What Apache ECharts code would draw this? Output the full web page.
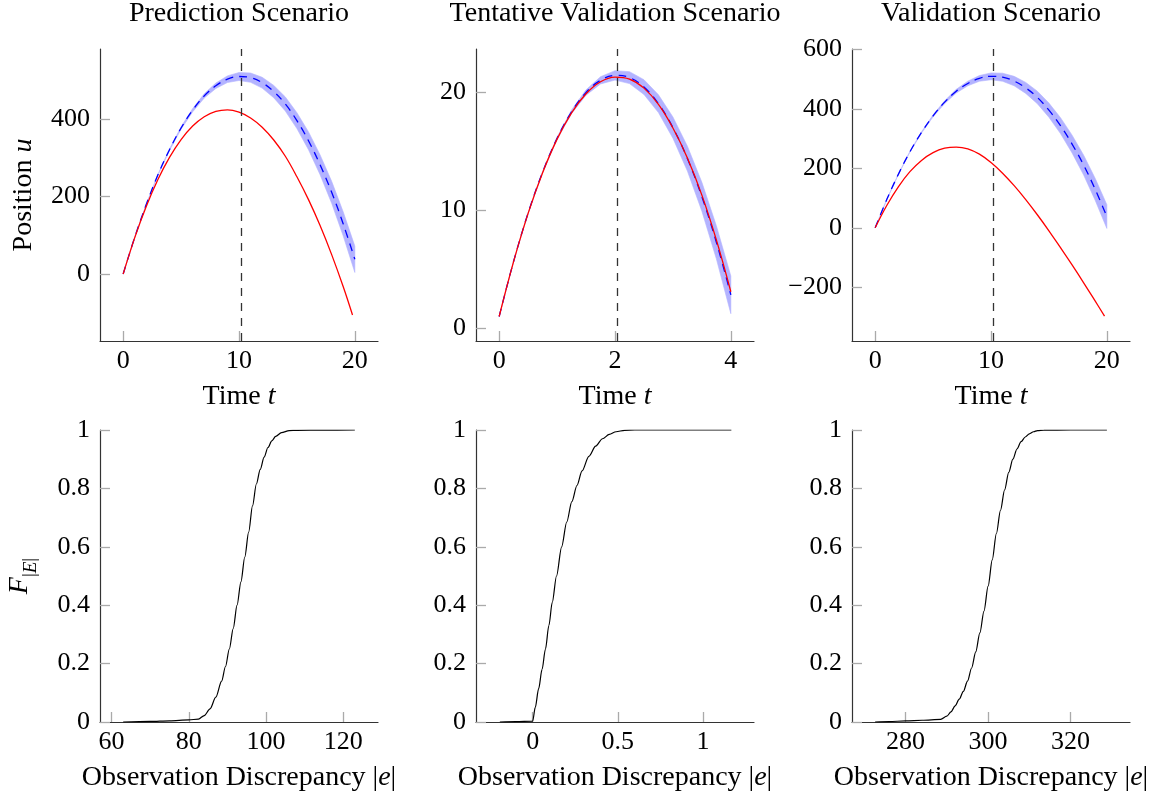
<!DOCTYPE html>
<html><head><meta charset="utf-8">
<script src="https://cdn.jsdelivr.net/npm/echarts@6/dist/echarts.min.js"></script>
<style>html,body{margin:0;padding:0;background:#fff}#c{width:1157px;height:797px}</style>
</head><body><div id="c"></div>
<script>
// ---------- data ----------
const titles = ['Prediction Scenario', 'Tentative Validation Scenario', 'Validation Scenario'];

// Panel A: prediction scenario
const timeA = [0,1,2,3,4,5,6,7,8,9,10,11,12,13,14,15,16,17,18,19,20];
const blueA = [0,95,180,256,321,377,423,460,486,503,510,507,494,471,439,396,344,282,211,129,38];
const halfA = [0,0.2,0.6,1.2,2,3,4.2,5.5,7,8.6,10.3,12,14,16,18.2,20.5,23,25.6,28.3,31,34];
const redTimeA = [0,1,2,3,4,5,6,7,8,9,10,11,12,13,14,15,16,17,18,19,19.8];
const redA  = [0,94,175,244,301,347,382,406,420,424,418,403,379,346,304,251,192,125,50,-33,-106];

// Panel B: tentative validation scenario
const timeB = [0,0.25,0.5,0.75,1,1.25,1.5,1.75,2,2.25,2.5,2.75,3,3.25,3.5,3.75,4];
const blueB = [1,5.69,9.78,13.25,16.12,18.37,20.01,21.04,21.46,21.27,20.47,19.06,17.03,14.4,11.16,7.3,2.84];
const halfB = [0,0.006,0.025,0.056,0.1,0.156,0.225,0.306,0.4,0.506,0.625,0.756,0.9,1.056,1.225,1.406,1.6];
const redTimeB = [0,0.25,0.5,0.75,1,1.25,1.5,1.75,2,2.25,2.5,2.75,3,3.25,3.5,3.75,4];
const redB  = [1,5.68,9.75,13.2,16.05,18.28,19.9,20.92,21.32,21.15,20.38,19.0,17.0,14.45,11.3,7.5,3.1];

// Panel C: validation scenario
const timeC = [0,1,2,3,4,5,6,7,8,9,10,11,12,13,14,15,16,17,18,19,20];
const blueC = [0,95,180,256,321,377,423,460,486,503,510,507,494,471,439,396,344,282,211,129,38];
const halfC = [0,0.2,0.6,1.3,2.2,3.3,4.6,6.1,7.8,9.6,11.5,13.6,15.9,18.4,21,23.8,26.8,30,33.3,36.8,40];
const redTimeC = [0,1,2,3,4,5,6,7,8,9,10,11,12,13,14,15,16,17,18,19,19.8];
const redC  = [0,75,138,189,227,253,268,272,266,248,220,184,142,95,44,-10,-67,-125,-185,-247,-297];

const peakTimes = [10.2, 2.04, 10.2];

// CDFs of observation discrepancy
const cdfXA = [63,70,75,80,82.5,84,85.5,87,88.5,89.5,90.5,91.5,92.5,93.5,94.5,95.5,96.5,97.5,98.5,99.5,100.5,101.5,102.5,104,106,108,115,123];
const cdfYA = [0,0.002,0.004,0.007,0.01,0.022,0.045,0.085,0.14,0.19,0.25,0.32,0.4,0.48,0.565,0.65,0.74,0.815,0.865,0.907,0.94,0.963,0.978,0.991,0.998,0.999,0.9995,1];
const cdfXB = [-0.193,-0.1,0,0.015,0.035,0.055,0.075,0.095,0.115,0.14,0.17,0.2,0.23,0.26,0.29,0.33,0.37,0.41,0.45,0.49,0.54,0.6,0.8,1.167];
const cdfYB = [0,0.001,0.003,0.05,0.114,0.18,0.25,0.33,0.41,0.5,0.6,0.685,0.755,0.81,0.86,0.91,0.945,0.97,0.985,0.994,0.999,1,1,1];
const cdfXC = [272.6,276,280,284,288.5,290,291,292,293,294,295,296,297,298,299,300,301,302,303,304,305,306,307,308,309,310,311,312,313.5,320,328.8];
const cdfYC = [0,0.001,0.004,0.006,0.009,0.02,0.035,0.055,0.078,0.105,0.14,0.185,0.24,0.305,0.38,0.465,0.555,0.645,0.725,0.795,0.855,0.9,0.935,0.96,0.976,0.987,0.994,0.998,0.9995,1,1];

// ticks
const xTicksTop = [[0,10,20],[0,2,4],[0,10,20]];
const yTicksTop = [[0,200,400],[0,10,20],[-200,0,200,400,600]];
const xTicksBot = [[60,80,100,120],[0,0.5,1],[280,300,320]];
const yTicksBot = [0,0.2,0.4,0.6,0.8,1];

// ---------- layout / style ----------
const FF = "'Liberation Serif','Times New Roman',serif";
const FS = 26;   // tick labels
const FT = 28;   // titles and axis names
const lefts = [100, 476, 852];
const W = 278;
const tops = [49, 430];
const H = 292;
const xRangeTop = [[-2,22],[-0.4,4.4],[-2,22]];
const yRangeTop = [[-173,581],[-1.08,23.7],[-381,602]];
const xRangeBot = [[57,129],[-0.333,1.3],[267,334.4]];

function fmt(v){ return v < 0 ? '\u2212' + Math.abs(v) : String(v); }
const richBase = {
  i: {fontFamily: FF, fontSize: FT, fontStyle: 'italic', color: '#000'},
  f: {fontFamily: FF, fontSize: FT, fontStyle: 'italic', color: '#000', verticalAlign: 'top'},
  s: {fontFamily: FF, fontSize: 19, color: '#000', padding: [15,0,0,0], verticalAlign: 'bottom'},
  si: {fontFamily: FF, fontSize: 19, fontStyle: 'italic', color: '#000', padding: [15,0,0,0], verticalAlign: 'bottom'}
};
function axisCommon(ticks, margin){
  return {
    type: 'value',
    splitLine: {show: false},
    axisLine: {show: true, onZero: false, lineStyle: {color: '#333', width: 1.2}},
    axisTick: {show: true, inside: true, length: 10, lineStyle: {color: '#aaa', width: 1.3}, customValues: ticks},
    axisLabel: {show: true, customValues: ticks, formatter: fmt, fontFamily: FF, fontSize: FS, color: '#000', margin: margin},
    nameLocation: 'middle',
    nameTextStyle: {fontFamily: FF, fontSize: FT, color: '#000', rich: richBase}
  };
}

const grids = [], xAxes = [], yAxes = [], series = [];
for (let r = 0; r < 2; r++) {
  for (let c = 0; c < 3; c++) {
    grids.push({left: lefts[c], top: tops[r], width: W, height: H, containLabel: false});
  }
}
for (let c = 0; c < 3; c++) {
  xAxes.push(Object.assign(axisCommon(xTicksTop[c], 7), {gridIndex: c, min: xRangeTop[c][0], max: xRangeTop[c][1], name: 'Time {i|t}', nameGap: 42}));
  const ya = Object.assign(axisCommon(yTicksTop[c], 10), {gridIndex: c, min: yRangeTop[c][0], max: yRangeTop[c][1]});
  if (c === 0) { ya.name = 'Position {i|u}'; ya.nameGap = 62; }
  yAxes.push(ya);
}
for (let c = 0; c < 3; c++) {
  xAxes.push(Object.assign(axisCommon(xTicksBot[c], 7), {gridIndex: 3 + c, min: xRangeBot[c][0], max: xRangeBot[c][1], name: 'Observation Discrepancy |{i|e}|', nameGap: 42}));
  const ya = Object.assign(axisCommon(yTicksBot, 10), {gridIndex: 3 + c, min: 0, max: 1});
  if (c === 0) { ya.name = '{f|F}{s||}{si|E}{s||}'; ya.nameGap = 60; }
  yAxes.push(ya);
}

const topSets = [
  [timeA, blueA, halfA, redTimeA, redA],
  [timeB, blueB, halfB, redTimeB, redB],
  [timeC, blueC, halfC, redTimeC, redC]
];
topSets.forEach((set, i) => {
  const [t, b, h, rt, rd] = set;
  // uncertainty band: polygon built through the axis scales
  series.push({
    type: 'custom', xAxisIndex: i, yAxisIndex: i, silent: true, animation: false, clip: true,
    data: t.map((x, k) => [x, b[k] - h[k], b[k] + h[k]]),
    encode: {x: 0, y: [1, 2]},
    renderItem: function (params, api) {
      if (params.dataIndex !== 0) return null;
      const pts = [];
      for (let k = 0; k < t.length; k++) pts.push(api.coord([t[k], b[k] + h[k]]));
      for (let k = t.length - 1; k >= 0; k--) pts.push(api.coord([t[k], b[k] - h[k]]));
      return {type: 'polygon', shape: {points: pts}, style: {fill: '#b3b3ff', stroke: '#b3b3ff', lineWidth: 0.6}};
    }
  });
  series.push({
    type: 'line', xAxisIndex: i, yAxisIndex: i, symbol: 'none', smooth: 0.4, silent: true, animation: false,
    data: t.map((x, k) => [x, b[k]]),
    lineStyle: {color: '#0000ff', width: 1.3, type: [8, 6]}
  });
  series.push({
    type: 'line', xAxisIndex: i, yAxisIndex: i, symbol: 'none', smooth: 0.4, silent: true, animation: false,
    data: rt.map((x, k) => [x, rd[k]]),
    lineStyle: {color: '#ff0000', width: 1.3},
    markLine: {
      symbol: 'none', silent: true, animation: false, label: {show: false},
      lineStyle: {color: '#333', width: 1.3, type: [8, 7]},
      data: [{xAxis: peakTimes[i]}]
    }
  });
});
[[cdfXA, cdfYA], [cdfXB, cdfYB], [cdfXC, cdfYC]].forEach((p, i) => {
  series.push({
    type: 'line', xAxisIndex: 3 + i, yAxisIndex: 3 + i, symbol: 'none', smooth: 0.3, smoothMonotone: 'x',
    silent: true, animation: false,
    data: p[0].map((x, k) => [x, p[1][k]]),
    lineStyle: {color: '#000', width: 1.2}
  });
});

const titleCfg = titles.map((t, c) => ({
  text: t, left: lefts[c] + W / 2, top: 0, textAlign: 'center', padding: 0,
  textStyle: {fontFamily: FF, fontSize: FT, fontWeight: 'normal', color: '#000'}
}));

const chart = echarts.init(document.getElementById('c'), null, {renderer: 'canvas'});
chart.setOption({
  animation: false,
  backgroundColor: '#fff',
  title: titleCfg,
  grid: grids,
  xAxis: xAxes,
  yAxis: yAxes,
  series: series
});
</script></body></html>
